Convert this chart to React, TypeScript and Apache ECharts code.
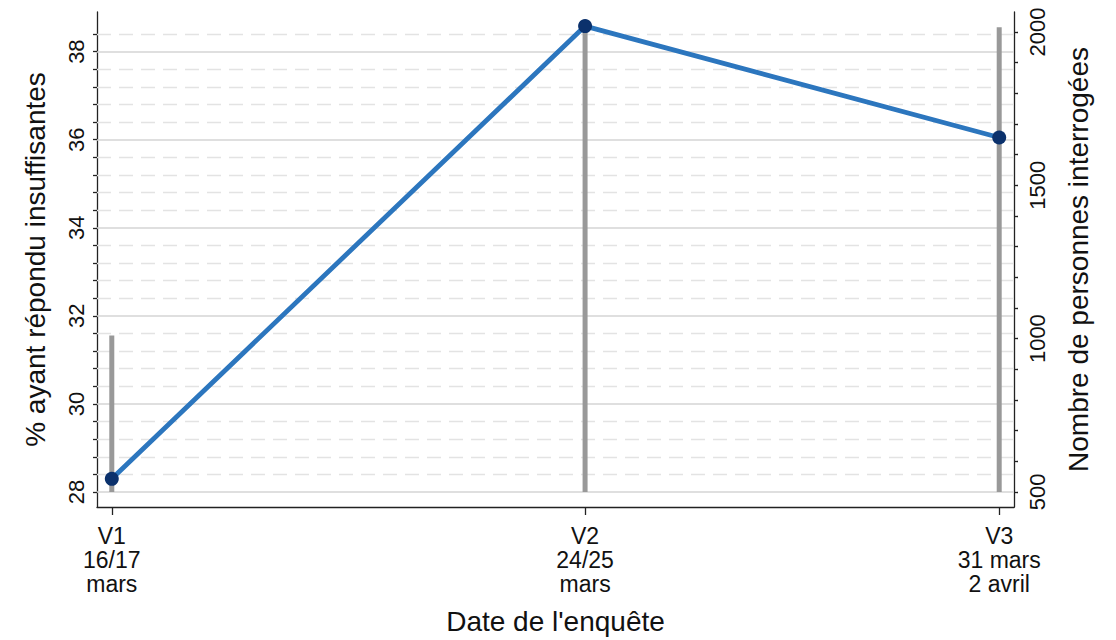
import React, { useEffect, useRef } from "react";
import * as echarts from "echarts";

// Wave dates (day of March) and labels
const waveDays = [16, 24, 31];
const waveLabels = ["V1\n16/17\nmars", "V2\n24/25\nmars", "V3\n31 mars\n2 avril"];
// % ayant répondu insuffisantes
const pctInsuffisant = [28.3, 38.58, 36.05];
// Nombre de personnes interrogées
const nbPersonnes = [1010, 2010, 2015];
const spikeBase = 500;

// Axis ticks
const leftMajor = [28, 30, 32, 34, 36, 38];
const leftMinor = [28.4, 28.8, 29.2, 29.6, 30.4, 30.8, 31.2, 31.6, 32.4, 32.8, 33.2, 33.6, 34.4, 34.8, 35.2, 35.6, 36.4, 36.8, 37.2, 37.6, 38.4];
const rightLabels = [500, 1000, 1500, 2000];
const rightTicks = [500, 600, 700, 800, 900, 1000, 1100, 1200, 1300, 1400, 1500, 1600, 1700, 1800, 1900, 2000];

const FONT = "'Liberation Sans', Arial, sans-serif";

export default function App() {
  const ref = useRef<HTMLDivElement>(null);
  useEffect(() => {
    if (!ref.current) return;
    const chart = echarts.init(ref.current, undefined, { renderer: "svg" });
    const lineData = waveDays.map((d, i) => [d, pctInsuffisant[i]]);
    const spikeData = waveDays.map((d, i) => [d, nbPersonnes[i]]);
    const gridLines = [
      ...leftMajor.map((v) => ({ yAxis: v, lineStyle: { color: "#d4d4d4", width: 1.5, type: "solid" } })),
      ...leftMinor.map((v) => ({ yAxis: v, lineStyle: { color: "#e3e3e3", width: 1.3, type: [14, 8] } })),
    ];
    chart.setOption({
      animation: false,
      backgroundColor: "#ffffff",
      textStyle: { fontFamily: FONT },
      grid: { left: 97, right: 102, top: 12, bottom: 132 },
      xAxis: {
        type: "value",
        min: 15.75,
        max: 31.25,
        name: "Date de l'enquête",
        nameLocation: "middle",
        nameGap: 100,
        nameTextStyle: { fontSize: 28, color: "#111", fontFamily: FONT },
        axisLine: { show: true, lineStyle: { color: "#222", width: 1.3 } },
        axisTick: { show: true, customValues: waveDays, length: 8, lineStyle: { color: "#222", width: 1.3 } },
        axisLabel: {
          customValues: waveDays,
          fontSize: 23,
          lineHeight: 24,
          color: "#111",
          margin: 17,
          fontFamily: FONT,
          formatter: (v: number) => {
            const i = waveDays.indexOf(v);
            return i >= 0 ? waveLabels[i] : "";
          },
        },
        splitLine: { show: false },
      },
      yAxis: [
        {
          type: "value",
          position: "left",
          min: 27.66,
          max: 38.9,
          name: "% ayant répondu insuffisantes",
          nameLocation: "middle",
          nameGap: 48,
          nameTextStyle: { fontSize: 28, color: "#111", fontFamily: FONT },
          axisLine: { show: true, lineStyle: { color: "#222", width: 1.3 } },
          axisTick: { show: true, customValues: [...leftMajor, ...leftMinor], length: 4, lineStyle: { color: "#222", width: 1.3 } },
          axisLabel: { customValues: leftMajor, rotate: 90, fontSize: 22, color: "#111", margin: 10, fontFamily: FONT, formatter: (v: number) => String(v) },
          splitLine: { show: false },
        },
        {
          type: "value",
          position: "right",
          min: 451,
          max: 2065,
          name: "Nombre de personnes interrogées",
          nameLocation: "middle",
          nameGap: 50,
          nameTextStyle: { fontSize: 28, color: "#111", fontFamily: FONT },
          axisLine: { show: true, lineStyle: { color: "#222", width: 1.3 } },
          axisTick: { show: true, customValues: rightTicks, length: 4, lineStyle: { color: "#222", width: 1.3 } },
          axisLabel: { customValues: rightLabels, rotate: 90, fontSize: 22, color: "#111", margin: 12, fontFamily: FONT, formatter: (v: number) => String(v) },
          splitLine: { show: false },
        },
      ],
      series: [
        {
          type: "line",
          name: "grid",
          yAxisIndex: 0,
          data: [],
          z: 1,
          silent: true,
          markLine: {
            z: 1,
            silent: true,
            symbol: "none",
            label: { show: false },
            data: gridLines,
          },
        },
        {
          type: "custom",
          name: "Nombre",
          yAxisIndex: 1,
          z: 2,
          encode: { x: 0, y: 1 },
          data: spikeData,
          renderItem: (params: any, api: any) => {
            const x = api.value(0);
            const v = api.value(1);
            const top = api.coord([x, v]);
            const base = api.coord([x, spikeBase]);
            return {
              type: "line",
              shape: { x1: top[0], y1: top[1], x2: base[0], y2: base[1] },
              style: { stroke: "#999999", lineWidth: 5, lineCap: "butt" },
            };
          },
        },
        {
          type: "line",
          name: "%",
          yAxisIndex: 0,
          z: 3,
          data: lineData,
          symbol: "circle",
          symbolSize: 14,
          lineStyle: { color: "#2c76be", width: 4.8 },
          itemStyle: { color: "#0b316c" },
        },
      ],
    });
    return () => chart.dispose();
  }, []);
  return <div ref={ref} style={{ position: "absolute", left: 0, top: 0, width: 1116, height: 640 }} />;
}
